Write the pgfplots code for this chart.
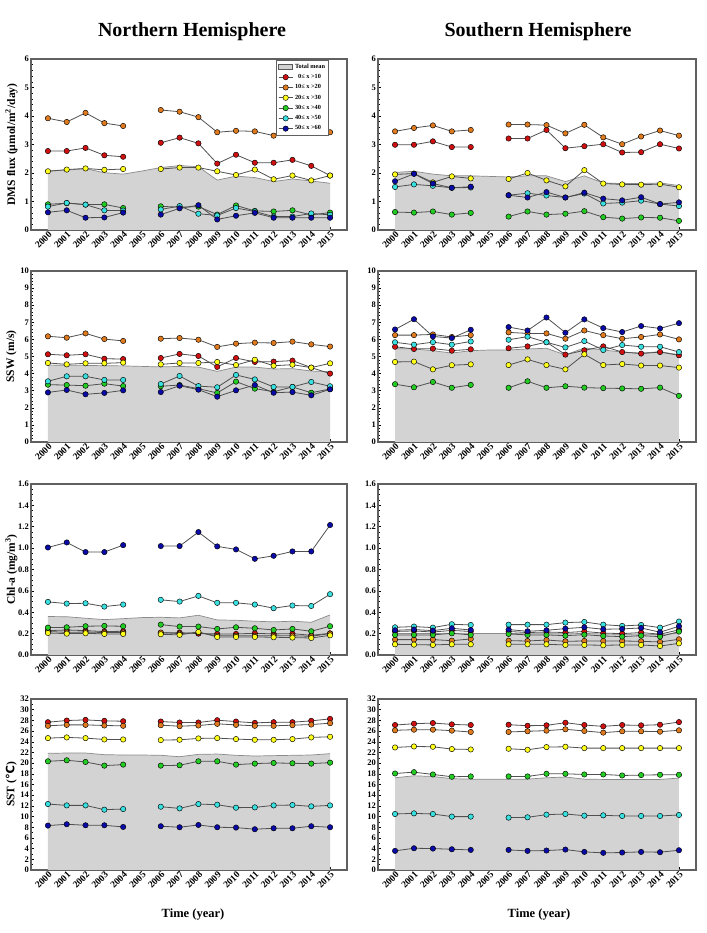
\documentclass[border=0pt]{standalone}
\usepackage{pgfplots}
\pgfplotsset{compat=1.18}
\usepackage{pgfplotstable}
\usepackage{fontspec}
\setmainfont{Liberation Serif}
\newfontfamily\symfont{DejaVu Sans}

\definecolor{cR}{HTML}{D01010}
\definecolor{cO}{HTML}{E07A1E}
\definecolor{cY}{HTML}{FFFF1A}
\definecolor{cG}{HTML}{22CC22}
\definecolor{cC}{HTML}{38E0E0}
\definecolor{cB}{HTML}{0A0AA8}
\definecolor{meanfill}{HTML}{D3D3D3}
\definecolor{meanedge}{HTML}{8A8A8A}
\definecolor{serline}{HTML}{505050}
\definecolor{frame}{HTML}{606060}

% columns: year, total mean, 0-10, 10-20, 20-30, 30-40, 40-50, 50-60
\pgfplotstableread{
year mean r o y g c b
2000 2.07 2.77 3.92 2.06 0.90 0.82 0.62
2001 2.10 2.77 3.79 2.12 0.94 0.95 0.69
2002 2.15 2.88 4.11 2.16 0.89 0.89 0.43
2003 2.01 2.62 3.75 2.11 0.90 0.69 0.44
2004 1.96 2.57 3.65 2.14 0.77 0.68 0.61
2005 2.07 nan nan nan nan nan nan
2006 2.19 3.06 4.21 2.14 0.83 0.72 0.54
2007 2.26 3.24 4.15 2.19 0.80 0.84 0.76
2008 2.22 3.04 3.96 2.19 0.82 0.57 0.87
2009 1.75 2.33 3.43 2.06 0.54 0.51 0.37
2010 1.89 2.64 3.48 1.93 0.86 0.77 0.50
2011 1.84 2.36 3.46 2.12 0.67 0.65 0.60
2012 1.70 2.36 3.31 1.78 0.65 0.47 0.43
2013 1.79 2.46 3.53 1.91 0.69 0.47 0.43
2014 1.72 2.25 3.55 1.74 0.53 0.58 0.43
2015 1.64 1.91 3.43 1.91 0.61 0.53 0.43
}\nhdms

\pgfplotstableread{
year mean r o y g c b
2000 2.02 2.99 3.46 1.95 0.63 1.51 1.71
2001 2.06 2.99 3.58 1.98 0.61 1.60 1.97
2002 1.96 3.11 3.67 1.67 0.65 1.55 1.63
2003 1.90 2.91 3.46 1.88 0.54 1.48 1.48
2004 1.90 2.91 3.51 1.81 0.60 1.49 1.52
2005 1.88 nan nan nan nan nan nan
2006 1.86 3.21 3.70 1.79 0.47 1.22 1.22
2007 1.90 3.21 3.70 2.00 0.65 1.29 1.14
2008 1.90 3.51 3.68 1.74 0.54 1.21 1.33
2009 1.70 2.87 3.39 1.53 0.57 1.14 1.14
2010 1.90 2.94 3.69 2.10 0.66 1.28 1.31
2011 1.65 3.01 3.25 1.63 0.45 0.93 1.10
2012 1.63 2.72 3.01 1.60 0.40 0.96 1.04
2013 1.63 2.73 3.28 1.59 0.44 1.03 1.15
2014 1.65 3.01 3.49 1.61 0.43 0.91 0.91
2015 1.56 2.86 3.31 1.50 0.32 0.84 0.97
}\shdms

\pgfplotstableread{
year mean r o y g c b
2000 4.50 5.13 6.18 4.62 3.35 3.55 2.90
2001 4.48 5.07 6.10 4.54 3.33 3.84 3.04
2002 4.48 5.13 6.35 4.60 3.29 3.84 2.79
2003 4.46 4.87 6.02 4.60 3.41 3.63 2.87
2004 4.45 4.85 5.91 4.64 3.27 3.63 3.02
2005 4.42 nan nan nan nan nan nan
2006 4.39 4.91 6.04 4.54 3.26 3.39 2.92
2007 4.42 5.15 6.08 4.62 3.33 3.86 3.29
2008 4.38 5.03 5.98 4.62 3.12 3.27 3.06
2009 4.13 4.39 5.56 4.68 2.87 3.20 2.65
2010 4.38 4.91 5.75 4.50 3.53 3.92 3.02
2011 4.38 4.68 5.81 4.81 3.12 3.66 3.33
2012 4.27 4.70 5.79 4.46 2.94 3.22 2.88
2013 4.29 4.76 5.87 4.52 3.22 3.22 2.92
2014 4.15 4.35 5.71 4.35 2.88 3.51 2.73
2015 4.11 4.00 5.58 4.60 3.10 3.26 3.08
}\nhssw

\pgfplotstableread{
year mean r o y g c b
2000 5.46 5.57 6.25 4.68 3.38 5.83 6.58
2001 5.44 5.44 6.25 4.70 3.20 5.69 7.18
2002 5.34 5.46 6.29 4.25 3.51 5.84 6.17
2003 5.20 5.34 6.14 4.49 3.17 5.69 6.08
2004 5.34 5.42 6.25 4.54 3.34 5.88 6.56
2005 5.38 nan nan nan nan nan nan
2006 5.38 5.48 6.41 4.50 3.17 5.98 6.72
2007 5.44 5.59 6.35 4.83 3.55 6.16 6.52
2008 5.48 5.84 6.35 4.50 3.17 5.83 7.28
2009 5.09 5.11 6.04 4.25 3.26 5.53 6.39
2010 5.50 5.36 6.52 5.13 3.18 5.90 7.17
2011 5.38 5.59 6.25 4.50 3.15 5.38 6.66
2012 5.26 5.26 6.04 4.56 3.13 5.67 6.43
2013 5.20 5.17 6.14 4.47 3.11 5.57 6.78
2014 5.28 5.26 6.29 4.47 3.18 5.57 6.64
2015 5.10 5.07 6.00 4.35 2.70 5.26 6.95
}\shssw

\pgfplotstableread{
year mean r o y g c b
2000 0.360 0.228 0.220 0.206 0.256 0.497 1.006
2001 0.358 0.234 0.212 0.200 0.259 0.481 1.053
2002 0.344 0.228 0.215 0.203 0.269 0.484 0.963
2003 0.331 0.219 0.210 0.197 0.272 0.453 0.963
2004 0.340 0.222 0.210 0.197 0.269 0.472 1.028
2005 0.350 nan nan nan nan nan nan
2006 0.353 0.206 0.210 0.194 0.284 0.516 1.019
2007 0.347 0.209 0.200 0.188 0.266 0.500 1.019
2008 0.372 0.200 0.210 0.216 0.266 0.553 1.150
2009 0.328 0.197 0.180 0.169 0.244 0.488 1.016
2010 0.325 0.197 0.180 0.169 0.259 0.488 0.988
2011 0.316 0.203 0.180 0.169 0.250 0.472 0.900
2012 0.310 0.197 0.180 0.166 0.234 0.438 0.928
2013 0.316 0.200 0.180 0.163 0.244 0.463 0.969
2014 0.306 0.184 0.175 0.159 0.222 0.459 0.969
2015 0.375 0.203 0.200 0.184 0.269 0.569 1.216
}\nhchl

\pgfplotstableread{
year mean r o y g c b
2000 0.200 0.220 0.144 0.100 0.188 0.259 0.231
2001 0.202 0.225 0.144 0.097 0.188 0.266 0.238
2002 0.200 0.215 0.144 0.094 0.188 0.256 0.228
2003 0.205 0.230 0.134 0.100 0.203 0.288 0.250
2004 0.202 0.220 0.150 0.100 0.188 0.281 0.234
2005 0.202 nan nan nan nan nan nan
2006 0.202 0.220 0.134 0.100 0.197 0.284 0.238
2007 0.198 0.210 0.131 0.100 0.188 0.284 0.222
2008 0.200 0.215 0.140 0.100 0.188 0.284 0.231
2009 0.198 0.210 0.128 0.094 0.181 0.303 0.247
2010 0.202 0.220 0.131 0.094 0.190 0.309 0.259
2011 0.196 0.205 0.131 0.091 0.178 0.284 0.241
2012 0.194 0.200 0.131 0.094 0.172 0.272 0.244
2013 0.196 0.210 0.128 0.094 0.181 0.281 0.253
2014 0.190 0.195 0.122 0.084 0.172 0.256 0.213
2015 0.205 0.235 0.147 0.109 0.219 0.313 0.269
}\shchl

\pgfplotstableread{
year mean r o y g c b
2000 21.83 27.66 26.98 24.68 20.34 12.34 8.31
2001 21.89 27.97 27.16 24.81 20.53 12.09 8.56
2002 21.89 28.09 27.16 24.68 20.22 12.09 8.37
2003 21.58 27.91 27.04 24.43 19.53 11.29 8.37
2004 21.52 27.84 26.98 24.43 19.72 11.41 8.06
2005 21.52 nan nan nan nan nan nan
2006 21.46 27.78 27.10 24.31 19.53 11.84 8.19
2007 21.20 27.60 26.91 24.37 19.60 11.53 8.00
2008 21.64 27.60 27.04 24.62 20.34 12.34 8.43
2009 21.70 28.03 27.35 24.68 20.34 12.22 8.00
2010 21.46 27.78 27.16 24.50 19.72 11.66 7.94
2011 21.33 27.53 26.98 24.37 19.91 11.72 7.63
2012 21.40 27.66 26.98 24.37 20.03 12.09 7.81
2013 21.46 27.66 27.10 24.50 19.97 12.16 7.81
2014 21.52 27.91 27.22 24.81 19.91 11.91 8.19
2015 21.77 28.28 27.47 24.93 20.09 12.09 8.00
}\nhsst

\pgfplotstableread{
year mean r o y g c b
2000 17.26 27.13 26.14 22.93 18.06 10.48 3.58
2001 17.63 27.37 26.26 23.12 18.31 10.60 4.07
2002 17.50 27.50 26.26 23.06 17.88 10.48 4.01
2003 17.08 27.25 26.08 22.63 17.45 9.99 3.88
2004 17.00 27.13 25.83 22.56 17.51 9.99 3.76
2005 17.00 nan nan nan nan nan nan
2006 17.00 27.19 25.83 22.69 17.51 9.80 3.76
2007 17.00 27.00 25.96 22.50 17.51 9.86 3.58
2008 17.26 27.07 26.08 23.00 18.00 10.36 3.64
2009 17.40 27.56 26.33 23.06 18.00 10.48 3.82
2010 17.00 27.13 26.02 22.81 17.88 10.17 3.39
2011 16.95 26.88 25.71 22.81 17.88 10.23 3.21
2012 16.95 27.13 25.96 22.81 17.69 10.11 3.27
2013 16.95 27.07 25.96 22.81 17.76 10.11 3.39
2014 16.95 27.19 25.89 22.81 17.82 10.11 3.33
2015 17.20 27.68 26.14 22.81 17.82 10.30 3.70
}\shsst

\pgfplotsset{
  panel/.style={
    scale only axis, width=316pt, height=171pt,
    xmin=1999.1, xmax=2015.9, ymin=0,
    xtick={2000,2001,2002,2003,2004,2005,2006,2007,2008,2009,2010,2011,2012,2013,2014,2015},
    xticklabels={2000,2001,2002,2003,2004,2005,2006,2007,2008,2009,2010,2011,2012,2013,2014,2015},
    unbounded coords=jump,
    axis line style={draw=frame, line width=1.1pt},
    tick style={black, line width=0.5pt},
    tick pos=left, tick align=inside,
    major tick length=3pt, minor tick length=1.6pt,
    /pgf/number format/assume math mode=true,
    ticklabel style={font=\bfseries\fontsize{8.5}{9}\selectfont},
    xticklabel style={rotate=45, anchor=north east, inner sep=0.5pt,
      font=\bfseries\fontsize{9.5}{10}\selectfont},
    yticklabel style={inner sep=2pt},
    every axis y label/.style={at={(axis description cs:-0.062,0.5)}, rotate=90, anchor=center,
      font=\bfseries\fontsize{11.5}{13}\selectfont},
  },
  ser/.style={draw=serline, line width=0.8pt, mark=*, mark size=2.7pt,
    mark options={draw=black, fill=#1, line width=0.45pt, solid}},
  dmsax/.style={panel, ymax=6, ytick={0,1,...,6}, minor y tick num=4},
  sswax/.style={panel, ymax=10, ytick={0,1,...,10}, minor y tick num=4},
  chlax/.style={panel, ymax=1.6, ytick={0,0.2,...,1.6}, minor y tick num=3,
    yticklabel style={/pgf/number format/.cd, fixed, fixed zerofill, precision=1}},
  sstax/.style={panel, ymax=32, ytick={0,2,...,32}, minor y tick num=1},
}

% total-mean area plus the six latitude-band series of one table
\newcommand{\drawseries}[1]{%
  \addplot[fill=meanfill, draw=none, forget plot] table[x=year,y=mean]{#1} \closedcycle;
  \addplot[draw=meanedge, line width=0.7pt, forget plot] table[x=year,y=mean]{#1};
  \addplot[ser=cR] table[x=year,y=r]{#1};
  \addplot[ser=cO] table[x=year,y=o]{#1};
  \addplot[ser=cY] table[x=year,y=y]{#1};
  \addplot[ser=cG] table[x=year,y=g]{#1};
  \addplot[ser=cC] table[x=year,y=c]{#1};
  \addplot[ser=cB] table[x=year,y=b]{#1};
}

\begin{document}
\begin{tikzpicture}
\useasboundingbox (0,0) rectangle (706pt,933pt);

\node[font=\bfseries\fontsize{20}{24}\selectfont] at (192pt,901pt) {Northern Hemisphere};
\node[font=\bfseries\fontsize{20}{24}\selectfont] at (538pt,901pt) {Southern Hemisphere};

% ---- DMS flux ----
\begin{axis}[dmsax, at={(31pt,703pt)}, ylabel={DMS flux (µmol/m\textsuperscript{2}/day)},
  legend style={at={(0.943,0.994)}, anchor=north east, draw=frame, line width=0.7pt,
    font=\bfseries\fontsize{6.3}{6.8}\selectfont, inner sep=1.5pt, row sep=0.6pt,
    cells={anchor=west}},
  legend cell align=left,
  legend image code/.code={\draw[mark repeat=2, mark phase=2, #1]
    plot coordinates {(0pt,0pt) (7pt,0pt) (14pt,0pt)};}]
\addlegendimage{legend image code/.code={\draw[fill=meanfill, draw=gray!70!black, line width=0.5pt] (0pt,-2.5pt) rectangle (14pt,2.5pt);}}
\drawseries{\nhdms}
\legend{Total mean, \hphantom{1}0≤ x >10, 10≤ x >20, 20≤ x >30, 30≤ x >40, 40≤ x >50, 50≤ x >60}
\end{axis}
\begin{axis}[dmsax, width=318pt, at={(378pt,703pt)}]
\drawseries{\shdms}
\end{axis}

% ---- SSW ----
\begin{axis}[sswax, at={(31pt,491pt)}, ylabel={SSW (m/s)}]
\drawseries{\nhssw}
\end{axis}
\begin{axis}[sswax, width=318pt, at={(378pt,491pt)}]
\drawseries{\shssw}
\end{axis}

% ---- Chl-a ----
\begin{axis}[chlax, at={(31pt,278pt)}, ylabel={Chl-a (mg/m\textsuperscript{3})}]
\drawseries{\nhchl}
\end{axis}
\begin{axis}[chlax, width=318pt, at={(378pt,278pt)}]
\drawseries{\shchl}
\end{axis}

% ---- SST ----
\begin{axis}[sstax, at={(31pt,63pt)}, ylabel={SST ({\symfont\bfseries ℃})}]
\drawseries{\nhsst}
\end{axis}
\begin{axis}[sstax, width=318pt, at={(378pt,63pt)}]
\drawseries{\shsst}
\end{axis}

\node[font=\bfseries\fontsize{12.5}{14}\selectfont] at (193pt,18pt) {Time (year)};
\node[font=\bfseries\fontsize{12.5}{14}\selectfont] at (539pt,18pt) {Time (year)};
\end{tikzpicture}
\end{document}
